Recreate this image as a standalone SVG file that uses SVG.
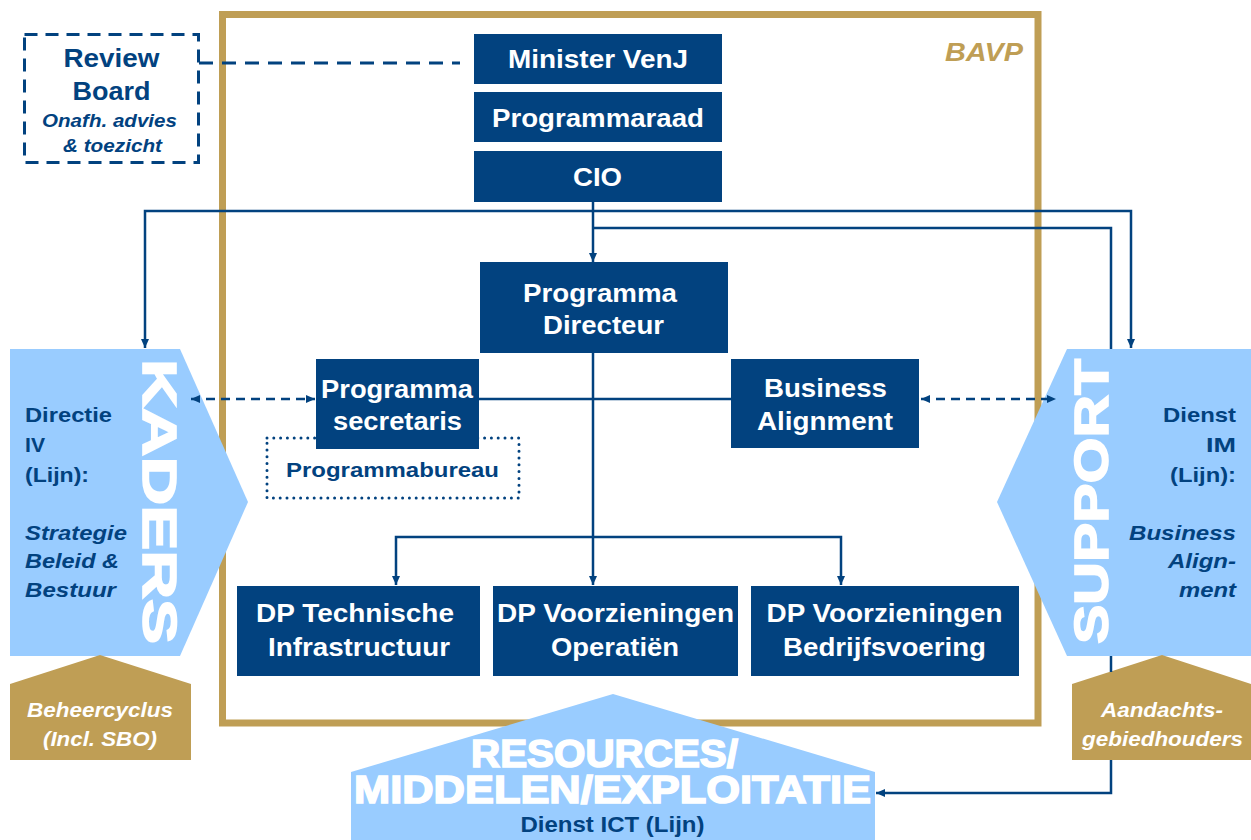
<svg xmlns="http://www.w3.org/2000/svg" width="1251" height="840" viewBox="0 0 1251 840">
<defs>
<style>
.box{fill:#02427F}
.bt{font-family:'Liberation Sans',Arial,sans-serif;font-weight:bold;font-size:25px;fill:#fff;text-anchor:middle}
.dt{font-family:'Liberation Sans',Arial,sans-serif;font-weight:bold;font-size:21px;fill:#02427F}
.it{font-style:italic}
.wt{font-family:'Liberation Sans',Arial,sans-serif;font-weight:bold;font-style:italic;font-size:20px;fill:#fff;text-anchor:middle}
.heavy{font-family:'Liberation Sans',Arial,sans-serif;font-weight:bold;fill:#fff;stroke:#fff;stroke-width:1.6;text-anchor:middle}
.light{fill:#99CCFF}
.gold{fill:#BF9E55}
.con{fill:none;stroke:#02427F;stroke-width:2.5}
.dash{fill:none;stroke:#02427F;stroke-width:2.5;stroke-dasharray:9 6}
</style>
<marker id="ah" viewBox="0 0 9 8" refX="9" refY="4" markerWidth="9" markerHeight="8" markerUnits="userSpaceOnUse" orient="auto-start-reverse">
<path d="M0,0 L9,4 L0,8 z" fill="#02427F"/>
</marker>
</defs>
<rect width="1251" height="840" fill="#fff"/>

<g id="bavp">
<rect x="222.5" y="14.5" width="815.5" height="708.5" fill="none" stroke="#BF9E55" stroke-width="7"/>
<text x="945" y="61" textLength="78" lengthAdjust="spacingAndGlyphs" style="font-family:'Liberation Sans',Arial,sans-serif;font-weight:bold;font-style:italic;font-size:25px;fill:#BF9E55">BAVP</text>
</g>

<g id="review-board">
<rect x="24.5" y="34.5" width="174" height="128" fill="none" stroke="#02427F" stroke-width="3" stroke-dasharray="13 8"/>
<text class="dt" x="111.5" y="67" text-anchor="middle" textLength="96" lengthAdjust="spacingAndGlyphs" style="font-size:26px">Review</text>
<text class="dt" x="111.5" y="100" text-anchor="middle" textLength="78" lengthAdjust="spacingAndGlyphs" style="font-size:26px">Board</text>
<text class="dt it" x="109.5" y="127" text-anchor="middle" textLength="135" lengthAdjust="spacingAndGlyphs" style="font-size:19px">Onafh. advies</text>
<text class="dt it" x="112.5" y="152" text-anchor="middle" textLength="99" lengthAdjust="spacingAndGlyphs" style="font-size:19px">&amp; toezicht</text>
</g>

<g id="kaders">
<polygon class="light" points="10,349 180,349 248,502 180,656 10,656"/>
<text class="heavy" transform="translate(143,501.5) rotate(90)" x="0" y="0" textLength="285" lengthAdjust="spacingAndGlyphs" style="font-size:48px">KADERS</text>
<text class="dt" x="25" y="422" textLength="87" lengthAdjust="spacingAndGlyphs">Directie</text>
<text class="dt" x="25" y="452" textLength="20" lengthAdjust="spacingAndGlyphs">IV</text>
<text class="dt" x="25" y="482" textLength="64" lengthAdjust="spacingAndGlyphs">(Lijn):</text>
<text class="dt it" x="25" y="540" textLength="102" lengthAdjust="spacingAndGlyphs">Strategie</text>
<text class="dt it" x="25" y="568" textLength="94" lengthAdjust="spacingAndGlyphs">Beleid &amp;</text>
<text class="dt it" x="25" y="597" textLength="91" lengthAdjust="spacingAndGlyphs">Bestuur</text>
</g>

<g id="beheercyclus">
<polygon class="gold" points="10,760 10,684 100,655 191,684 191,760"/>
<text class="wt" x="100" y="717" textLength="146" lengthAdjust="spacingAndGlyphs">Beheercyclus</text>
<text class="wt" x="100" y="746" textLength="114" lengthAdjust="spacingAndGlyphs">(Incl. SBO)</text>
</g>

<g id="support">
<polygon class="light" points="1067,349 1251,349 1251,656 1067,656 997,502"/>
<text class="heavy" transform="translate(1108,501.5) rotate(-90)" x="0" y="0" textLength="285" lengthAdjust="spacingAndGlyphs" style="font-size:48px">SUPPORT</text>
<text class="dt" x="1236" y="422" text-anchor="end" textLength="73" lengthAdjust="spacingAndGlyphs">Dienst</text>
<text class="dt" x="1236" y="452" text-anchor="end" textLength="30" lengthAdjust="spacingAndGlyphs">IM</text>
<text class="dt" x="1236" y="482" text-anchor="end" textLength="66" lengthAdjust="spacingAndGlyphs">(Lijn):</text>
<text class="dt it" x="1236" y="540" text-anchor="end" textLength="107" lengthAdjust="spacingAndGlyphs">Business</text>
<text class="dt it" x="1236" y="568" text-anchor="end" textLength="68" lengthAdjust="spacingAndGlyphs">Align-</text>
<text class="dt it" x="1236" y="597" text-anchor="end" textLength="57" lengthAdjust="spacingAndGlyphs">ment</text>
</g>

<g id="aandachtsgebiedhouders">
<polygon class="gold" points="1072,760 1072,684 1162,655 1251,684 1251,760"/>
<text class="wt" x="1162" y="717" textLength="122" lengthAdjust="spacingAndGlyphs">Aandachts-</text>
<text class="wt" x="1162.5" y="746" textLength="161" lengthAdjust="spacingAndGlyphs">gebiedhouders</text>
</g>

<g id="resources">
<polygon class="light" points="351,840 351,772 613,694 875,772 875,840"/>
<text class="heavy" style="font-size:38px"><tspan x="604.5" y="767" textLength="267" lengthAdjust="spacingAndGlyphs">RESOURCES/</tspan><tspan x="612.5" y="803" textLength="517" lengthAdjust="spacingAndGlyphs">MIDDELEN/EXPLOITATIE</tspan></text>
<text class="dt" x="612.5" y="832" text-anchor="middle" textLength="184" lengthAdjust="spacingAndGlyphs" style="font-size:22px">Dienst ICT (Lijn)</text>
</g>

<g id="connectors">
<path d="M199,63 H460" fill="none" stroke="#02427F" stroke-width="3" stroke-dasharray="14 9"/>
<path class="con" d="M593,202 V262" marker-end="url(#ah)"/>
<path class="con" d="M145,348 V211 H1131 V348" marker-start="url(#ah)" marker-end="url(#ah)"/>
<path class="con" d="M593,228 H1111 V349 M1111,656 V672 M1111,760 V793 H876" marker-end="url(#ah)"/>
<path class="con" d="M593,353 V585" marker-end="url(#ah)"/>
<path class="con" d="M396,585 V537 H841 V585" marker-start="url(#ah)" marker-end="url(#ah)"/>
<path class="con" d="M479,399 H731"/>
<path class="dash" d="M191,399 H315" marker-start="url(#ah)" marker-end="url(#ah)"/>
<path class="dash" d="M921,399 H1056" marker-start="url(#ah)" marker-end="url(#ah)"/>
</g>

<g id="minister-venj">
<rect class="box" x="474" y="34" width="248" height="50"/>
<text class="bt" x="598" y="68" textLength="180" lengthAdjust="spacingAndGlyphs">Minister VenJ</text>
</g>
<g id="programmaraad">
<rect class="box" x="474" y="92" width="248" height="50"/>
<text class="bt" x="598" y="127" textLength="212" lengthAdjust="spacingAndGlyphs">Programmaraad</text>
</g>
<g id="cio">
<rect class="box" x="474" y="151" width="248" height="51"/>
<text class="bt" x="597.5" y="186" textLength="49" lengthAdjust="spacingAndGlyphs">CIO</text>
</g>
<g id="programma-directeur">
<rect class="box" x="480" y="262" width="248" height="91"/>
<text class="bt" x="600" y="302" textLength="154" lengthAdjust="spacingAndGlyphs">Programma</text>
<text class="bt" x="603.5" y="334" textLength="121" lengthAdjust="spacingAndGlyphs">Directeur</text>
</g>
<g id="programmabureau">
<rect x="267" y="438" width="252" height="60" fill="none" stroke="#02427F" stroke-width="3" stroke-linecap="round" stroke-dasharray="0 6.8"/>
<text class="dt" x="392.5" y="477" text-anchor="middle" textLength="213" lengthAdjust="spacingAndGlyphs">Programmabureau</text>
</g>
<g id="programma-secretaris">
<rect class="box" x="316" y="359" width="163" height="90"/>
<text class="bt" x="397" y="398" textLength="152" lengthAdjust="spacingAndGlyphs">Programma</text>
<text class="bt" x="397.5" y="430" textLength="129" lengthAdjust="spacingAndGlyphs">secretaris</text>
</g>
<g id="business-alignment">
<rect class="box" x="731" y="359" width="188" height="89"/>
<text class="bt" x="825.5" y="397" textLength="123" lengthAdjust="spacingAndGlyphs">Business</text>
<text class="bt" x="825" y="430" textLength="136" lengthAdjust="spacingAndGlyphs">Alignment</text>
</g>
<g id="dp-technische-infrastructuur">
<rect class="box" x="237" y="586" width="243" height="90"/>
<text class="bt" x="355" y="622" textLength="198" lengthAdjust="spacingAndGlyphs">DP Technische</text>
<text class="bt" x="359" y="656" textLength="182" lengthAdjust="spacingAndGlyphs">Infrastructuur</text>
</g>
<g id="dp-voorzieningen-operatien">
<rect class="box" x="493" y="586" width="245" height="90"/>
<text class="bt" x="615.5" y="622" textLength="237" lengthAdjust="spacingAndGlyphs">DP Voorzieningen</text>
<text class="bt" x="615" y="656" textLength="128" lengthAdjust="spacingAndGlyphs">Operatiën</text>
</g>
<g id="dp-voorzieningen-bedrijfsvoering">
<rect class="box" x="751" y="586" width="268" height="90"/>
<text class="bt" x="884.5" y="622" textLength="236" lengthAdjust="spacingAndGlyphs">DP Voorzieningen</text>
<text class="bt" x="884.5" y="656" textLength="203" lengthAdjust="spacingAndGlyphs">Bedrijfsvoering</text>
</g>
</svg>
